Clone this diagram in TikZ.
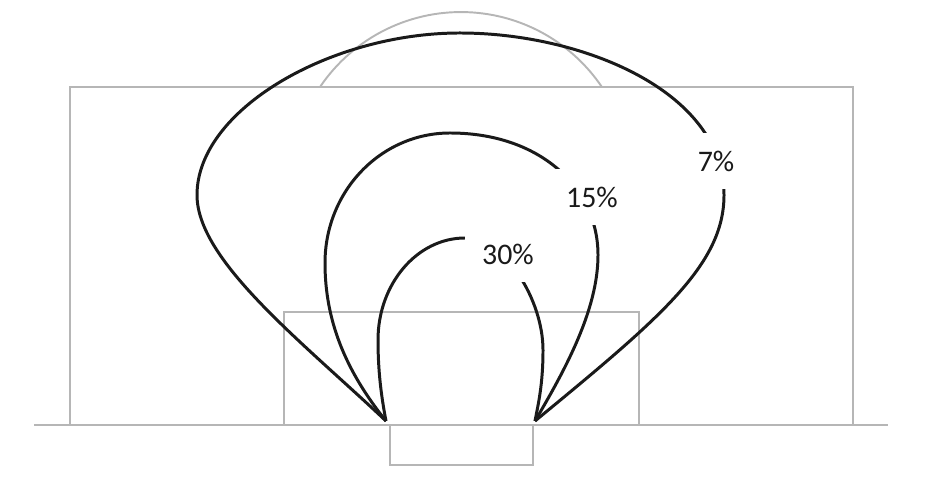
\documentclass[tikz,border=0pt]{standalone}
\usepackage{fontspec}
\setmainfont{Carlito}
\definecolor{markgrey}{RGB}{182,182,182}
\definecolor{inkblack}{RGB}{26,26,26}
\tikzset{
  markline/.style={draw=markgrey, line width=1.1pt},
  zone/.style={draw=inkblack, line width=1.7pt},
  pct/.style={fill=white, inner sep=0.35cm, text=inkblack, font=\fontsize{17}{20}\selectfont}
}
\begin{document}
\begin{tikzpicture}[x=0.02cm, y=0.02cm]
\useasboundingbox (0,0) rectangle (928,496);

% Pitch markings
\draw[markline] (34,71) -- (888,71);
\draw[markline] (70,71) -- (70,409) -- (853,409) -- (853,71);
\draw[markline] (284,71) -- (284,184) -- (639,184) -- (639,71);
\draw[markline] (390,71) -- (390,31) -- (533,31) -- (533,71);
\draw[markline] (320,409) arc[start angle=146, end angle=34, radius=170];

% Goal posts
\coordinate (lpost) at (386,75);
\coordinate (rpost) at (535,75);

% 7% zone
\draw[zone] (lpost) .. controls (300,156) and (197,236) .. (197,301)
  .. controls (197,386) and (330,463) .. (460,463)
  .. controls (580,463) and (724,406) .. (724,301)
  .. controls (724,231) and (660,178) .. (rpost);

% 15% zone
\draw[zone] (lpost) .. controls (345,126) and (325,176) .. (325,233)
  .. controls (325,305) and (381,363) .. (450,363)
  .. controls (540,363) and (598,308) .. (598,241)
  .. controls (598,186) and (565,126) .. (rpost);

% 30% zone
\draw[zone] (lpost) .. controls (381,101) and (378,126) .. (378,156)
  .. controls (378,212) and (417,258) .. (465,258)
  .. controls (505,258) and (543,196) .. (543,146)
  .. controls (543,111) and (538,91) .. (rpost);

% Labels
\node[pct] (seven) at (716,335) {7\%};
\node[pct] (fifteen) at (592,299) {15\%};
\node[pct] (thirty) at (508,242) {30\%};
\end{tikzpicture}
\end{document}
